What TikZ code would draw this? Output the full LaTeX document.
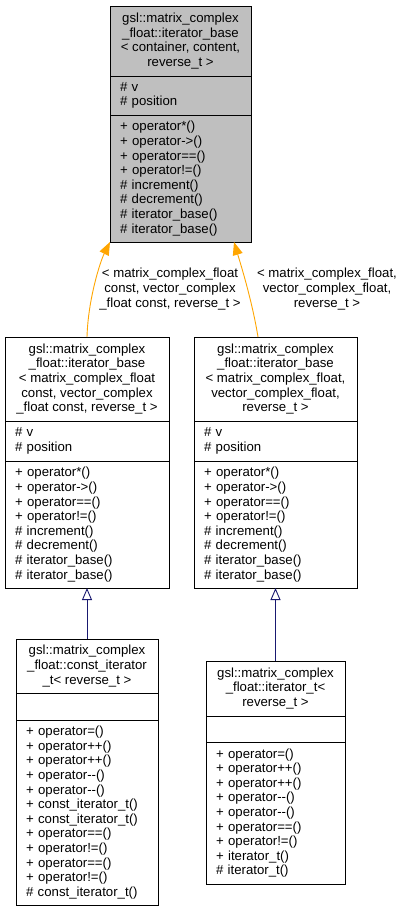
\documentclass[tikz,border=0pt]{standalone}
\usepackage{fontspec}
\setmainfont{Liberation Sans}
\usetikzlibrary{positioning,arrows.meta}
\definecolor{gvgrey}{HTML}{BFBFBF}
\definecolor{gvorange}{HTML}{FFA500}
\definecolor{gvblue}{HTML}{191970}
\newcommand{\mm}{-\kern0pt-}
\begin{document}
\begin{tikzpicture}[x=1pt,y=-1pt,
		every node/.style={font=\fontsize{13.2}{14.6}\selectfont},
		part/.style={draw=black,line width=0.9pt,inner xsep=10pt,inner ysep=0pt,outer sep=0pt},
		head/.style={part,anchor=north,align=center},
		body/.style={part,align=left},
		tmpl/.style={draw=gvorange,line width=0.9pt,-{Triangle[length=13pt,width=10pt]}},
		inh/.style={draw=gvblue,line width=0.9pt,-{Triangle[open,length=12pt,width=10pt,fill=white]}}]
	\useasboundingbox (0,0) rectangle (405,912);
	% iterator_base < container, content, reverse_t >
	\node [head,fill=gvgrey,minimum width=141pt,minimum height=70pt] (Bh) at (180.5,6) {gsl::matrix\_complex\\\_float::iterator\_base\\< container, content,\\reverse\_t >};
	\node [body,fill=gvgrey,text width=121pt,minimum height=39pt,below=0pt of Bh] (Ba) {\# v\\\# position};
	\node [body,fill=gvgrey,text width=121pt,minimum height=127pt,below=0pt of Ba] (Bm) {+ operator*()\\+ operator->()\\+ operator==()\\+ operator!=()\\\# increment()\\\# decrement()\\\# iterator\_base()\\\# iterator\_base()};
	% iterator_base < matrix_complex_float const, ... >
	\node [head,minimum width=164pt,minimum height=84pt] (Ch) at (87,337) {gsl::matrix\_complex\\\_float::iterator\_base\\< matrix\_complex\_float\\ const, vector\_complex\\\_float const, reverse\_t >};
	\node [body,text width=144pt,minimum height=40pt,below=0pt of Ch] (Ca) {\# v\\\# position};
	\node [body,text width=144pt,minimum height=127pt,below=0pt of Ca] (Cm) {+ operator*()\\+ operator->()\\+ operator==()\\+ operator!=()\\\# increment()\\\# decrement()\\\# iterator\_base()\\\# iterator\_base()};
	% iterator_base < matrix_complex_float, ... >
	\node [head,minimum width=163pt,minimum height=84pt] (Nh) at (275.5,337) {gsl::matrix\_complex\\\_float::iterator\_base\\< matrix\_complex\_float,\\vector\_complex\_float,\\reverse\_t >};
	\node [body,text width=143pt,minimum height=40pt,below=0pt of Nh] (Na) {\# v\\\# position};
	\node [body,text width=143pt,minimum height=127pt,below=0pt of Na] (Nm) {+ operator*()\\+ operator->()\\+ operator==()\\+ operator!=()\\\# increment()\\\# decrement()\\\# iterator\_base()\\\# iterator\_base()};
	% const_iterator_t
	\node [head,minimum width=142pt,minimum height=54pt] (Kh) at (87,639) {gsl::matrix\_complex\\\_float::const\_iterator\\\_t< reverse\_t >};
	\node [body,text width=122pt,minimum height=27pt,below=0pt of Kh] (Ka) {};
	\node [body,text width=122pt,minimum height=185pt,below=0pt of Ka] (Km) {+ operator=()\\+ operator++()\\+ operator++()\\+ operator\mm()\\+ operator\mm()\\+ const\_iterator\_t()\\+ const\_iterator\_t()\\+ operator==()\\+ operator!=()\\+ operator==()\\+ operator!=()\\\# const\_iterator\_t()};
	% iterator_t
	\node [head,minimum width=139pt,minimum height=55pt] (Ih) at (275.5,661) {gsl::matrix\_complex\\\_float::iterator\_t<\\reverse\_t >};
	\node [body,text width=119pt,minimum height=26pt,below=0pt of Ih] (Ia) {};
	\node [body,text width=119pt,minimum height=142pt,below=0pt of Ia] (Im) {+ operator=()\\+ operator++()\\+ operator++()\\+ operator\mm()\\+ operator\mm()\\+ operator==()\\+ operator!=()\\+ iterator\_t()\\\# iterator\_t()};
	% edges
	\draw [tmpl] (Ch.north) .. controls (88,300) and (100,262) .. ([xshift=0pt]Bm.south west);
	\draw [tmpl] ([xshift=-17.5pt]Nh.north) .. controls (252,300) and (240,262) .. ([xshift=-17pt]Bm.south east);
	\draw [inh] (Kh.north) -- (Cm.south);
	\draw [inh] (Ih.north) -- (Nm.south);
	\node [align=center] (Cl) at (170,289) {< matrix\_complex\_float\\const, vector\_complex\\\_float const, reverse\_t >};
	\node [align=center] (Nl) at (327,289) {< matrix\_complex\_float,\\vector\_complex\_float,\\reverse\_t >};
\end{tikzpicture}
\end{document}
